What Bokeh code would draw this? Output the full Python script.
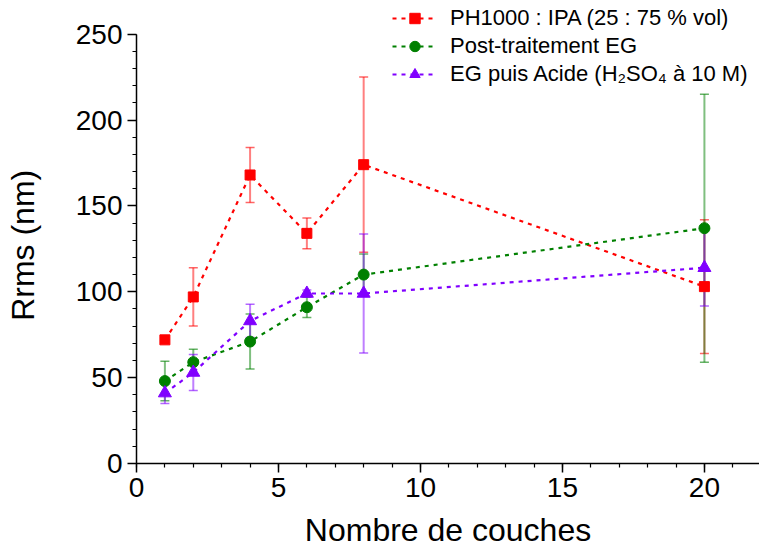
from bokeh.plotting import figure
from bokeh.models import (ColumnDataSource, Whisker, TeeHead, Legend, LegendItem,
                          SingleIntervalTicker, Range1d)
from bokeh.embed import file_html
from bokeh.resources import INLINE

# ---- data ----
layers = [1, 2, 4, 6, 8, 20]
ph1000 = [72, 97, 168, 134, 174, 103]
ph1000_err = [0, 17, 16, 9, 51, 39]
eg = [48, 59, 71, 91, 110, 137]
eg_err = [11.5, 7.5, 16, 6, 12, 78]
acid = [41, 53, 83, 99, 99, 114]
acid_err = [6, 10.5, 9.7, 2, 34.6, 22.3]

labels = ["PH1000 : IPA (25 : 75 % vol)", "Post-traitement EG",
          "EG puis Acide (H\u2082SO\u2084 \u00e0 10 M)"]
colors = ["#ff0000", "#008000", "#8000ff"]
markers = ["square", "circle", "triangle"]
sizes = [10, 11, 13]
x_title = "Nombre de couches"
y_title = "Rrms (nm)"
x_ticks_interval = 5
y_ticks_interval = 50

FONT = "Liberation Sans"

p = figure(width=759, height=550, x_range=Range1d(0, 21.94), y_range=Range1d(0, 269.6),
           min_border_left=136, min_border_right=0, min_border_top=0, min_border_bottom=87,
           outline_line_color=None, toolbar_location=None, output_backend="svg")
p.xgrid.visible = False
p.ygrid.visible = False

for ax, ticker in ((p.xaxis[0], SingleIntervalTicker(interval=x_ticks_interval, num_minor_ticks=5)),
                   (p.yaxis[0], SingleIntervalTicker(interval=y_ticks_interval, num_minor_ticks=5))):
    ax.ticker = ticker
    ax.axis_label_text_font = FONT
    ax.axis_label_text_font_style = "normal"
    ax.axis_label_text_color = "black"
    ax.axis_label_text_font_size = "32px"
    ax.major_label_text_font = FONT
    ax.major_label_text_font_size = "28px"
    ax.major_label_text_color = "black"
    ax.axis_line_color = "black"
    ax.axis_line_width = 1.5
    ax.major_tick_line_color = "black"
    ax.major_tick_line_width = 1.5
    ax.minor_tick_line_color = "black"
    ax.minor_tick_line_width = 1.2
    ax.major_tick_in = 0
    ax.major_tick_out = 9
    ax.minor_tick_in = 0
    ax.minor_tick_out = 4

p.yaxis[0].bounds = (0, 250)
p.xaxis[0].axis_label = x_title
p.xaxis[0].major_label_standoff = 5
p.xaxis[0].axis_label_standoff = 12
# trailing no-break spaces centre the visible y title on the 0-250 span of the axis
p.yaxis[0].axis_label = y_title + "\u00a0\u00a0\u00a0"
p.yaxis[0].major_label_standoff = 5
p.yaxis[0].axis_label_standoff = 32

items = []
for vals, errs, col, mk, sz, lab in zip((ph1000, eg, acid), (ph1000_err, eg_err, acid_err),
                                        colors, markers, sizes, labels):
    src = ColumnDataSource(dict(x=layers, y=vals,
                                lo=[v - e for v, e in zip(vals, errs)],
                                hi=[v + e for v, e in zip(vals, errs)]))
    w = Whisker(source=src, base="x", lower="lo", upper="hi", dimension="height",
                line_color=col, line_alpha=0.5, line_width=2, level="underlay",
                upper_head=TeeHead(size=9, line_color=col, line_alpha=0.6, line_width=1.5),
                lower_head=TeeHead(size=9, line_color=col, line_alpha=0.6, line_width=1.5))
    p.add_layout(w)
    ln = p.line("x", "y", source=src, line_color=col, line_width=2.2, line_dash="4 5")
    sc = p.scatter("x", "y", source=src, marker=mk, size=sz, fill_color=col, line_color=col)
    items.append(LegendItem(label=lab, renderers=[ln, sc]))

legend = Legend(items=items, location=(256, 376), orientation="vertical",
                glyph_width=45, glyph_height=26, label_height=26, spacing=2,
                label_standoff=13, padding=0, margin=0,
                border_line_color=None, background_fill_alpha=0,
                label_text_font=FONT, label_text_font_size="22px", label_text_color="black")
p.add_layout(legend, "center")

open("out.html", "w").write(file_html(p, INLINE))
